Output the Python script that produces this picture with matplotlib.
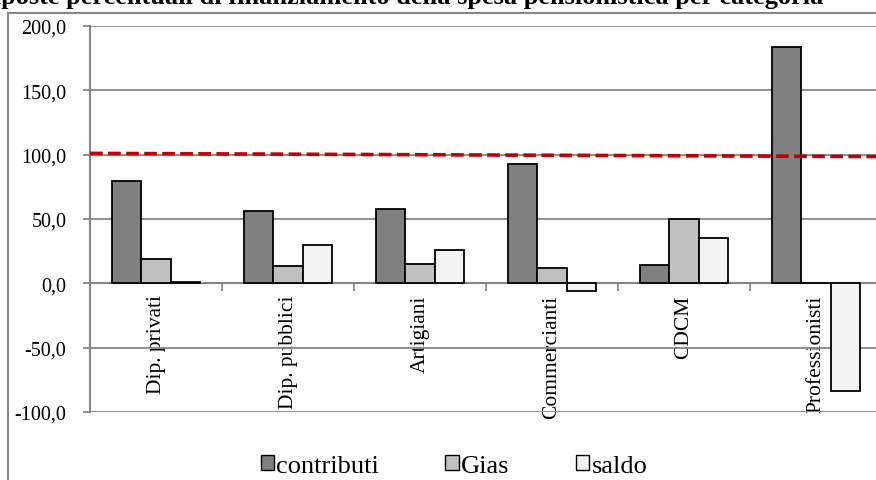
import matplotlib.pyplot as plt
import numpy as np
from matplotlib.lines import Line2D
from matplotlib.patches import Patch

plt.rcParams['font.family'] = ['Liberation Serif', 'DejaVu Serif']

# data
categorie = ['Dip. privati', 'Dip. pubblici', 'Artigiani', 'Commercianti', 'CDCM', 'Professionisti']
contributi = [79.3, 56.5, 58.0, 92.8, 14.0, 183.7]
gias = [18.9, 13.7, 15.3, 12.1, 50.0, 0.0]
saldo = [1.0, 29.5, 25.7, -5.8, 35.5, -83.5]
riferimento = [101.0, 98.5]   # dashed red line, left and right end

titolo = 'Composte percentuali di finanziamento della spesa pensionistica per categoria'

fig = plt.figure(figsize=(8.76, 4.81), dpi=100)
W, H = 876, 481
# plot area, the right edge is cut off like in the original
ax = fig.add_axes([90 / W, 1 - 413 / H, 792 / W, 386 / H])

x = np.arange(len(categorie))
bw = 1 / 4.5
serie = [(contributi, '#808080', 'contributi'),
         (gias, '#C0C0C0', 'Gias'),
         (saldo, '#F2F2F2', 'saldo')]
for k, (vals, col, lab) in enumerate(serie):
    ax.bar(x + (k - 1) * bw, vals, bw, color=col, edgecolor='black',
           linewidth=1.3, label=lab, zorder=3)

ax.plot([-0.5, len(categorie) - 0.5], riferimento, color='#C00000',
        linestyle=(0, (3.5, 1.5)), linewidth=2.6, zorder=4)

ax.set_xlim(-0.5, len(categorie) - 0.5)
ax.set_ylim(-100, 200)
ax.set_yticks(np.arange(-100, 201, 50))
ax.set_yticklabels([f'{v:.1f}'.replace('.', ',') for v in np.arange(-100, 201, 50)],
                   fontsize=14.5)
ax.yaxis.grid(True, color='#868686', linewidth=1.3, zorder=0)

for s in ['top', 'right']:
    ax.spines[s].set_visible(False)
ax.spines['left'].set_color('#868686')
ax.spines['left'].set_linewidth(1.5)
ax.spines['bottom'].set_position(('data', 0))
ax.spines['bottom'].set_color('#868686')
ax.spines['bottom'].set_linewidth(1.5)
ax.tick_params(axis='y', length=5, width=1.3, color='#868686', pad=12)

ax.set_xticks(x)
ax.set_xticklabels(categorie, rotation=90, fontsize=15.5, va='top')
ax.tick_params(axis='x', which='major', length=0, pad=8)
ax.set_xticks(np.arange(0.5, len(categorie) - 0.5, 1), minor=True)
ax.tick_params(axis='x', which='minor', length=6, width=1.3,
               color='#868686', direction='out')

# outer chart border
fig.add_artist(Line2D([8 / W, 8 / W], [0, 1 - 14 / H], color='#868686', linewidth=1.5))
fig.add_artist(Line2D([8 / W, 1], [1 - 14 / H, 1 - 14 / H], color='#868686', linewidth=1.5))

# title, mostly cut off at the top
fig.text(0.44, 1 - 4 / H, titolo, ha='center', va='baseline',
         fontsize=19, fontweight='bold')

handles = [Patch(facecolor=c, edgecolor='black', linewidth=1.0, label=l) for _, c, l in serie]
fig.legend(handles=handles, loc='center', bbox_to_anchor=(454 / W, 1 - 467 / H),
           ncol=3, frameon=False, fontsize=19, handlelength=0.5, handleheight=0.5,
           handletextpad=0.1, columnspacing=2.5)

fig.savefig('out.png', dpi=100)
